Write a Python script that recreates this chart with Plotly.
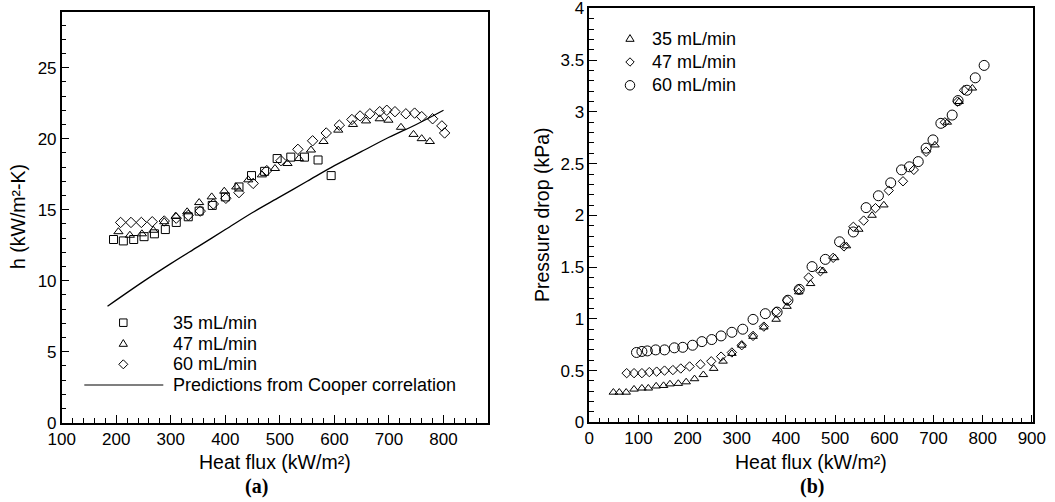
import plotly.graph_objects as go

W, H = 1055, 502

# ---------------- Panel (a): heat transfer coefficient ----------------
qa_35 = [195, 213, 232, 251, 270, 290, 310, 332, 352, 376, 400, 425, 448, 472, 495, 520, 545, 570, 594]
ha_35 = [12.9, 12.8, 12.9, 13.1, 13.3, 13.6, 14.1, 14.5, 14.9, 15.3, 15.9, 16.6, 17.4, 17.7, 18.6, 18.7, 18.7, 18.5, 17.4]

qa_47 = [204, 225, 247, 268, 288, 309, 330, 352, 375, 398, 420, 442, 467, 491, 514, 535, 557, 580,
         607, 634, 658, 683, 699, 722, 745, 760, 775]
ha_47 = [13.45, 13.2, 13.3, 13.55, 14.15, 14.55, 14.85, 15.5, 15.9, 16.3, 16.6, 17.1, 17.45, 17.9, 18.25,
         18.6, 19.2, 19.8, 20.6, 21.0, 21.25, 21.4, 21.3, 20.8, 20.3, 20.0, 19.8]

qa_60 = [208, 227, 246, 266, 288, 310, 332, 354, 378, 401, 425, 451, 476, 502, 533, 560, 585, 609, 632,
         647, 665, 683, 696, 711, 731, 747, 760, 780, 797, 802]
ha_60 = [14.1, 14.1, 14.1, 14.15, 14.2, 14.4, 14.6, 14.9, 15.4, 15.8, 16.2, 16.85, 17.75, 18.45, 19.25,
         19.85, 20.4, 20.95, 21.35, 21.6, 21.75, 21.9, 22.0, 21.9, 21.75, 21.8, 21.55, 21.4, 20.9, 20.4]

q_cooper = [184, 250, 300, 350, 400, 450, 500, 550, 600, 650, 700, 750, 800]
h_cooper = [8.2, 9.95, 11.2, 12.4, 13.6, 14.8, 15.9, 17.0, 18.1, 19.1, 20.1, 21.0, 22.0]

# ---------------- Panel (b): pressure drop ----------------
qb_35 = [49, 61, 75, 91, 107, 120, 136, 151, 164, 181, 197, 214, 232, 253, 272, 290, 310, 333, 355, 380,
         402, 426, 450, 475, 499, 523, 548, 575, 599, 703, 728, 752, 779]
dp_35 = [0.29, 0.29, 0.29, 0.32, 0.33, 0.33, 0.35, 0.355, 0.37, 0.375, 0.39, 0.42, 0.46, 0.52, 0.59, 0.665,
         0.745, 0.83, 0.92, 0.995, 1.12, 1.26, 1.34, 1.465, 1.59, 1.705, 1.865, 2.0, 2.1, 2.68, 2.9, 3.1, 3.23]

qb_47 = [76, 91, 107, 122, 137, 153, 170, 186, 204, 226, 248, 268, 290, 310, 333, 355, 380, 402, 426, 446,
         470, 496, 518, 537, 558, 582, 609, 638, 660, 685, 723, 749, 762]
dp_47 = [0.475, 0.475, 0.475, 0.485, 0.49, 0.5, 0.505, 0.52, 0.54, 0.56, 0.59, 0.635, 0.675, 0.745, 0.835,
         0.925, 1.07, 1.18, 1.285, 1.4, 1.46, 1.59, 1.7, 1.89, 1.95, 2.07, 2.24, 2.33, 2.44, 2.615, 2.9, 3.1, 3.21]

qb_60 = [96, 107, 118, 135, 153, 173, 190, 210, 229, 249, 268, 290, 312, 333, 358, 382, 404, 427, 453, 480,
         509, 537, 563, 588, 613, 635, 651, 669, 685, 699, 715, 738, 750, 768, 785, 803]
dp_60 = [0.675, 0.685, 0.69, 0.7, 0.7, 0.72, 0.725, 0.745, 0.78, 0.8, 0.835, 0.87, 0.9, 0.995, 1.05, 1.065,
         1.18, 1.285, 1.505, 1.575, 1.745, 1.84, 2.075, 2.19, 2.315, 2.44, 2.47, 2.52, 2.65, 2.73, 2.89, 2.97,
         3.11, 3.21, 3.33, 3.45]

labels_a = ["35 mL/min", "47 mL/min", "60 mL/min", "Predictions from Cooper correlation"]
labels_b = ["35 mL/min", "47 mL/min", "60 mL/min"]

ticks_ax = [100, 200, 300, 400, 500, 600, 700, 800]
ticks_ay = [0, 5, 10, 15, 20, 25]
ticks_bx = [0, 100, 200, 300, 400, 500, 600, 700, 800, 900]
ticks_by = [0, 0.5, 1, 1.5, 2, 2.5, 3, 3.5, 4]
ticktext_by = ["0", "0.5", "1", "1.5", "2", "2.5", "3", "3.5", "4"]

# ---------------- geometry (pixels) ----------------
A_L, A_R, A_T, A_B = 61.7, 487.7, 11.7, 422.7
B_L, B_R, B_T, B_B = 589.3, 1033.3, 8.3, 422.3


def px_x(p):
    return p / W


def px_y(p):
    return 1 - p / H


FONT = "Liberation Sans, Arial, sans-serif"
SERIF = "Liberation Serif, Times New Roman, serif"
BLACK = "black"

fig = go.Figure()


def mk(symbol, size):
    return dict(symbol=symbol, size=size, color=BLACK, line=dict(color=BLACK, width=1))


fig.add_trace(go.Scatter(x=qa_35, y=ha_35, mode="markers", name=labels_a[0],
                         marker=mk("square-open", 8), xaxis="x", yaxis="y"))
fig.add_trace(go.Scatter(x=qa_47, y=ha_47, mode="markers", name=labels_a[1],
                         marker=mk("triangle-up-open", 8), xaxis="x", yaxis="y"))
fig.add_trace(go.Scatter(x=qa_60, y=ha_60, mode="markers", name=labels_a[2],
                         marker=mk("diamond-open", 8), xaxis="x", yaxis="y"))
fig.add_trace(go.Scatter(x=q_cooper, y=h_cooper, mode="lines", name=labels_a[3],
                         line=dict(color=BLACK, width=1.3, shape="spline"), xaxis="x", yaxis="y"))

fig.add_trace(go.Scatter(x=qb_35, y=dp_35, mode="markers", name=labels_b[0],
                         marker=mk("triangle-up-open", 7.5), xaxis="x2", yaxis="y2"))
fig.add_trace(go.Scatter(x=qb_47, y=dp_47, mode="markers", name=labels_b[1],
                         marker=mk("diamond-open", 7.2), xaxis="x2", yaxis="y2"))
fig.add_trace(go.Scatter(x=qb_60, y=dp_60, mode="markers", name=labels_b[2],
                         marker=mk("circle-open", 10), xaxis="x2", yaxis="y2"))

axis_common = dict(
    showgrid=False, zeroline=False, showline=True, linecolor=BLACK, linewidth=1.5,
    mirror=True, ticks="inside", ticklen=8, tickwidth=1, tickcolor=BLACK, automargin=False,
    ticklabeloverflow="allow",
    tickfont=dict(family=FONT, size=17, color=BLACK),
)

fig.update_layout(
    width=W, height=H,
    margin=dict(l=0, r=0, t=0, b=0),
    paper_bgcolor="white", plot_bgcolor="white",
    font=dict(family=FONT, color=BLACK),
    showlegend=False,
    xaxis=dict(axis_common, domain=[px_x(A_L), px_x(A_R)], range=[100, 881], anchor="y",
               tickvals=ticks_ax,
               minor=dict(ticks="inside", ticklen=5, dtick=20, tick0=100, tickcolor=BLACK)),
    yaxis=dict(axis_common, domain=[px_y(A_B), px_y(A_T)], range=[0, 28.94], anchor="x",
               tickvals=ticks_ay,
               minor=dict(ticks="inside", ticklen=5, dtick=1, tick0=0, tickcolor=BLACK)),
    xaxis2=dict(axis_common, domain=[px_x(B_L), px_x(B_R)], range=[0, 903], anchor="y2",
                tickvals=ticks_bx,
                minor=dict(ticks="inside", ticklen=5, dtick=20, tick0=0, tickcolor=BLACK)),
    yaxis2=dict(axis_common, domain=[px_y(B_B), px_y(B_T)], range=[0, 4.002], anchor="x2",
                tickvals=ticks_by, ticktext=ticktext_by,
                minor=dict(ticks="inside", ticklen=5, dtick=0.1, tick0=0, tickcolor=BLACK)),
)

# ---------------- axis titles and panel labels ----------------
ann = [
    dict(text="Heat flux (kW/m²)", x=px_x((A_L + A_R) / 2), y=px_y(462), font=dict(size=19.5)),
    dict(text="h (kW/m²-K)", x=px_x(18), y=px_y(217), textangle=-90, font=dict(size=19.5)),
    dict(text="<b>(a)</b>", x=px_x(256), y=px_y(486), font=dict(size=20, family=SERIF)),
    dict(text="Heat flux (kW/m²)", x=px_x((B_L + B_R) / 2), y=px_y(462), font=dict(size=19.5)),
    dict(text="Pressure drop (kPa)", x=px_x(542), y=px_y(215), textangle=-90, font=dict(size=19.5)),
    dict(text="<b>(b)</b>", x=px_x(812), y=px_y(486), font=dict(size=20, family=SERIF)),
]
for a in ann:
    f = dict(family=FONT, color=BLACK)
    f.update(a.pop("font"))
    fig.add_annotation(xref="paper", yref="paper", showarrow=False, xanchor="center",
                       yanchor="middle", font=f, **a)


# ---------------- legends (keys drawn as shapes, labels as text) ----------------
def key_shape(kind, cx, cy, s):
    """Legend key centred at pixel (cx, cy) with pixel size s."""
    h = s / 2
    if kind == "square":
        pts = [(cx - h, cy - h), (cx + h, cy - h), (cx + h, cy + h), (cx - h, cy + h)]
    elif kind == "triangle":
        pts = [(cx, cy - h * 1.05), (cx + h * 1.1, cy + h * 0.75), (cx - h * 1.1, cy + h * 0.75)]
    elif kind == "diamond":
        pts = [(cx, cy - h * 1.2), (cx + h * 1.2, cy), (cx, cy + h * 1.2), (cx - h * 1.2, cy)]
    else:
        fig.add_shape(type="circle", xref="paper", yref="paper",
                      x0=px_x(cx - h), x1=px_x(cx + h), y0=px_y(cy + h), y1=px_y(cy - h),
                      line=dict(color=BLACK, width=1))
        return
    path = "M " + " L ".join(f"{px_x(x):.6f},{px_y(y):.6f}" for x, y in pts) + " Z"
    fig.add_shape(type="path", xref="paper", yref="paper", path=path,
                  line=dict(color=BLACK, width=1))


def legend_text(text, x, y):
    fig.add_annotation(xref="paper", yref="paper", showarrow=False, text=text,
                       x=px_x(x), y=px_y(y), xanchor="left", yanchor="middle",
                       font=dict(family=FONT, size=18, color=BLACK))


rows_a = [322.7, 343.5, 364.3, 385.0]
for kind, lab, ry in zip(["square", "triangle", "diamond"], labels_a[:3], rows_a[:3]):
    key_shape(kind, 123.3, ry, 7.5)
    legend_text(lab, 170.5, ry)
fig.add_shape(type="line", xref="paper", yref="paper", x0=px_x(84.3), x1=px_x(163.3),
              y0=px_y(rows_a[3]), y1=px_y(rows_a[3]), line=dict(color=BLACK, width=1.2))
legend_text(labels_a[3], 171, rows_a[3])

rows_b = [38.5, 62.0, 85.3]
for kind, lab, ry, s in zip(["triangle", "diamond", "circle"], labels_b, rows_b, [7.5, 7, 9.5]):
    key_shape(kind, 630, ry, s)
    legend_text(lab, 649.5, ry)

# remove the default page margin so the figure sits at the window's top-left corner
fig.write_html(
    "out.html",
    config={"displayModeBar": False},
    post_script="document.body.style.margin='0';document.body.style.overflow='hidden';",
)
